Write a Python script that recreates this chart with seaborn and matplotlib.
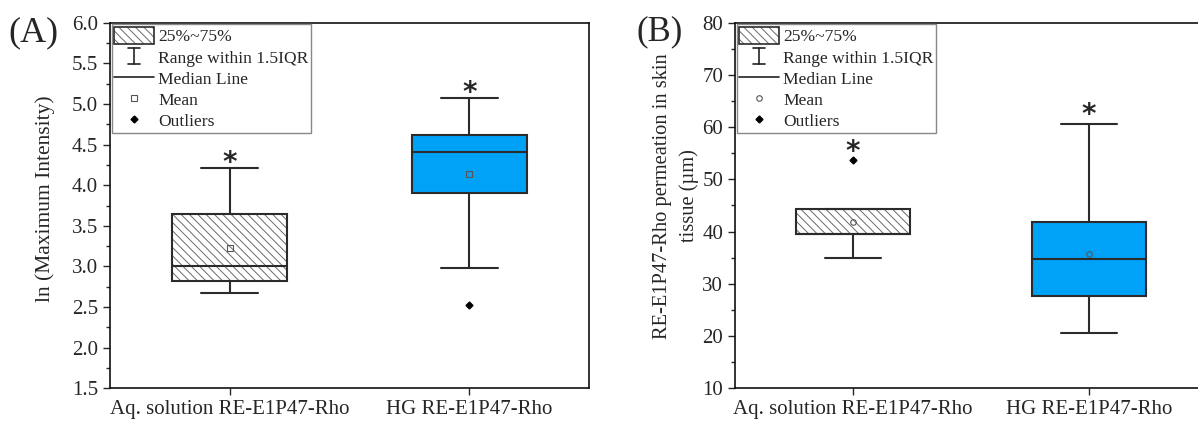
import numpy as np
import pandas as pd
import matplotlib
matplotlib.use("Agg")
import matplotlib.pyplot as plt
import seaborn as sns
from matplotlib.lines import Line2D
from matplotlib.patches import Patch
from matplotlib.legend_handler import HandlerBase
from matplotlib.ticker import MultipleLocator

# ---------------- data ----------------
groups = ["Aq. solution RE-E1P47-Rho", "HG RE-E1P47-Rho"]

# Panel A: ln (Maximum Intensity)
a_aq = [2.67, 2.76, 2.82, 2.90, 3.00, 3.30, 3.64, 3.75, 4.21]
a_hg = [2.52, 2.98, 3.90, 4.25, 4.41, 4.55, 4.62, 4.95, 5.07]

# Panel B: permeation depth (µm)
b_aq = [34.9, 39.5, 39.5, 39.5, 39.5, 42.0, 44.3, 44.3, 53.7]
b_hg = [20.6, 23.0, 27.7, 31.0, 34.8, 38.0, 41.9, 44.0, 60.7]

legend_labels = ["25%~75%", "Range within 1.5IQR", "Median Line", "Mean", "Outliers"]

# ---------------- style ----------------
sns.set_style("ticks")
plt.rcParams["font.family"] = ["Liberation Serif", "DejaVu Serif"]
plt.rcParams["hatch.linewidth"] = 0.7

EDGE = "#2b2b2b"
HATCH = "#6a6a6a"
BLUE = "#00A2F8"
SERIF = "Liberation Serif"
HATCH_PAT = "\\\\\\\\"


def set_hatch_color(p, c):
    if hasattr(p, "set_hatchcolor"):
        p.set_hatchcolor(c)
    else:
        p._hatch_color = matplotlib.colors.to_rgba(c)


class RangeHandle:
    pass


class HandlerRange(HandlerBase):
    def create_artists(self, legend, orig_handle, xdescent, ydescent,
                       width, height, fontsize, trans):
        cx = width / 2 - xdescent
        y0 = -ydescent + 0.05 * height
        y1 = height - ydescent
        w = width * 0.30
        arts = [Line2D([cx, cx], [y0, y1]),
                Line2D([cx - w / 2, cx + w / 2], [y0, y0]),
                Line2D([cx - w / 2, cx + w / 2], [y1, y1])]
        for a in arts:
            a.set_color("#222222")
            a.set_linewidth(1.2)
            a.set_transform(trans)
        return arts


def make_df(v1, v2):
    return pd.DataFrame({
        "group": [groups[0]] * len(v1) + [groups[1]] * len(v2),
        "value": list(v1) + list(v2),
    })


def draw_panel(ax, df, mean_marker, ylim, major, minor, ylabel, star_off,
               label_xy, label_size):
    sns.boxplot(data=df, x="group", y="value", hue="group",
                palette=["white", BLUE], saturation=1, legend=False, ax=ax,
                width=0.48, linecolor=EDGE, linewidth=1.5, whis=1.5,
                showmeans=True,
                meanprops=dict(marker=mean_marker, markerfacecolor="none",
                               markeredgecolor="#555555", markersize=4,
                               markeredgewidth=0.8),
                flierprops=dict(marker="D", markerfacecolor="black",
                                markeredgecolor="black", markersize=3.5),
                capwidths=0.24)
    boxes = [p for p in ax.patches]
    if boxes:
        boxes[0].set_hatch(HATCH_PAT)
        set_hatch_color(boxes[0], HATCH)
    ax.set_xlim(-0.5, 1.5)
    ax.set_ylim(*ylim)
    ax.yaxis.set_major_locator(MultipleLocator(major))
    ax.yaxis.set_minor_locator(MultipleLocator(minor))
    ax.tick_params(axis="y", which="major", direction="out", length=5,
                   width=1, labelsize=15)
    ax.tick_params(axis="y", which="minor", direction="out", length=3, width=1)
    ax.tick_params(axis="x", which="major", direction="out", length=5,
                   width=1, labelsize=15)
    for lab in ax.get_xticklabels() + ax.get_yticklabels():
        lab.set_fontfamily(SERIF)
    for s in ax.spines.values():
        s.set_visible(True)
        s.set_linewidth(1.2)
        s.set_color("#111111")
    ax.set_xlabel("")
    ax.set_ylabel(ylabel, fontsize=label_size, fontfamily=SERIF, linespacing=1.5)
    ax.yaxis.set_label_coords(*label_xy)

    for i, vals in enumerate([df[df.group == g]["value"] for g in groups]):
        ax.annotate("*", xy=(i, max(vals)), xytext=(0, star_off),
                    textcoords="offset points", ha="center", va="center",
                    fontsize=20, fontweight="bold", fontfamily="DejaVu Sans")

    hp = Patch(facecolor="white", edgecolor=EDGE, hatch=HATCH_PAT, linewidth=1.2)
    set_hatch_color(hp, HATCH)
    handles = [
        hp,
        RangeHandle(),
        Line2D([], [], color="#222222", lw=1.2),
        Line2D([], [], ls="none", marker=mean_marker, markerfacecolor="none",
               markeredgecolor="#555555", markersize=4, markeredgewidth=0.8),
        Line2D([], [], ls="none", marker="D", color="black", markersize=3.5),
    ]
    leg = ax.legend(handles, legend_labels, handler_map={RangeHandle: HandlerRange()},
                    loc="upper left", bbox_to_anchor=(0, 1), borderaxespad=0.1,
                    frameon=True, fancybox=False, edgecolor="#888888",
                    framealpha=1, prop={"family": SERIF, "size": 12.6},
                    handlelength=2.25, handleheight=1.1, labelspacing=0.16,
                    borderpad=0.15, handletextpad=0.25)
    leg.get_frame().set_linewidth(1.0)


fig = plt.figure(figsize=(11.98, 4.21), dpi=100)
bottom = 1 - 388.3 / 421
height = 365.6 / 421
axA = fig.add_axes([110 / 1198, bottom, 479 / 1198, height])
axB = fig.add_axes([735 / 1198, bottom, 472 / 1198, height])

draw_panel(axA, make_df(a_aq, a_hg), "s", (1.5, 6.0), 0.5, 0.25,
           "ln (Maximum Intensity)", 4, (-0.115, 0.52), 15.5)
draw_panel(axB, make_df(b_aq, b_hg), "o", (10, 80), 10, 5,
           "RE-E1P47-Rho permeation in skin\ntissue (µm)", 6, (-0.076, 0.527), 14.8)

fig.text(8 / 1198, 1 - 33 / 421, "(A)", fontsize=26, fontfamily=SERIF, va="center", ha="left")
fig.text(636 / 1198, 1 - 32 / 421, "(B)", fontsize=25, fontfamily=SERIF, va="center", ha="left")

fig.savefig("out.png", dpi=100)
